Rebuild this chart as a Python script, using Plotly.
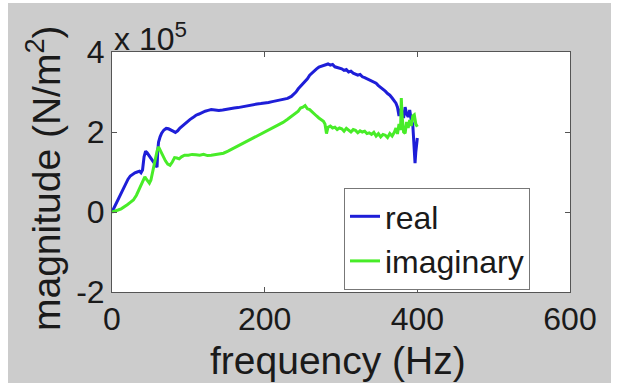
import plotly.graph_objects as go

# ---- data (magnitude in units of 1e5 N/m^2) ----
real_f = [0, 3, 6, 9, 12, 15, 18, 21, 24, 27, 30, 33, 36, 38, 40, 42, 44, 46, 48, 50,
          52, 54, 56, 58, 59, 60, 61, 63, 65, 68, 71, 74, 77, 80, 83, 86, 89, 92, 95, 98,
          102, 106, 110, 114, 118, 122, 126, 130, 135, 140, 145, 150, 155, 160, 165, 170,
          175, 180, 185, 190, 195, 200, 205, 210, 215, 220, 225, 230, 235, 238, 241, 244,
          247, 250, 253, 256, 259, 262, 265, 268, 271, 274, 277, 280, 283, 286, 289, 292,
          295, 298, 301, 304, 307, 310, 313, 316, 319, 322, 325, 328, 331, 334, 337, 340,
          343, 346, 349, 352, 355, 358, 361, 364, 367, 370, 372, 374, 376, 378, 380, 382,
          384, 386, 388, 390, 392, 394, 395, 396, 397, 398, 399, 400]
real_v = [0.00, 0.12, 0.25, 0.36, 0.48, 0.60, 0.72, 0.82, 0.90, 0.95, 0.98, 1.00, 1.02, 0.98,
          1.05, 1.38, 1.52, 1.48, 1.42, 1.36, 1.30, 1.25, 1.20, 1.14, 1.12, 1.55, 1.75, 1.88,
          1.97, 2.05, 2.09, 2.08, 2.04, 2.02, 1.99, 2.03, 2.10, 2.15, 2.21, 2.26, 2.31, 2.36,
          2.42, 2.45, 2.49, 2.52, 2.54, 2.56, 2.55, 2.54, 2.55, 2.57, 2.59, 2.60, 2.61, 2.63,
          2.65, 2.66, 2.68, 2.70, 2.71, 2.72, 2.74, 2.76, 2.78, 2.80, 2.82, 2.84, 2.89, 2.94,
          3.00, 3.08, 3.14, 3.20, 3.27, 3.33, 3.42, 3.48, 3.52, 3.58, 3.62, 3.64, 3.66, 3.68,
          3.70, 3.67, 3.69, 3.63, 3.61, 3.60, 3.58, 3.54, 3.56, 3.50, 3.52, 3.47, 3.45, 3.42,
          3.44, 3.38, 3.36, 3.33, 3.30, 3.28, 3.24, 3.22, 3.16, 3.12, 3.08, 3.02, 2.96, 2.92,
          2.85, 2.78, 2.72, 2.62, 2.40, 2.58, 2.50, 2.35, 2.62, 2.45, 2.38, 2.55, 2.30, 2.20,
          1.95, 1.60, 1.22, 1.50, 1.75, 1.85]

imag_f = [0, 4, 8, 12, 16, 20, 24, 28, 32, 36, 39, 41, 43, 45, 47, 49, 51, 53, 55, 57,
          59, 61, 63, 65, 67, 70, 73, 76, 79, 82, 85, 88, 91, 95, 100, 105, 110, 115, 120,
          125, 130, 135, 140, 146, 152, 158, 164, 170, 176, 182, 188, 194, 200, 206, 212,
          218, 224, 230, 236, 240, 244, 247, 250, 253, 256, 259, 262, 265, 268, 271, 274,
          277, 279, 281, 283, 286, 289, 292, 295, 298, 301, 304, 307, 310, 313, 316, 319,
          322, 325, 328, 331, 334, 337, 340, 343, 346, 349, 352, 355, 358, 361, 364, 367,
          370, 372, 374, 376, 378, 379, 380, 382, 384, 386, 388, 390, 392, 394, 396, 398, 400]
imag_v = [0.00, 0.02, 0.05, 0.08, 0.12, 0.18, 0.24, 0.30, 0.42, 0.60, 0.72, 0.82, 0.88, 0.82,
          0.76, 0.72, 0.80, 1.00, 1.20, 1.38, 1.52, 1.63, 1.55, 1.44, 1.36, 1.28, 1.20, 1.17,
          1.25, 1.36, 1.35, 1.33, 1.38, 1.42, 1.42, 1.44, 1.43, 1.42, 1.44, 1.41, 1.42, 1.43,
          1.44, 1.47, 1.52, 1.58, 1.64, 1.70, 1.76, 1.81, 1.87, 1.93, 1.98, 2.04, 2.10, 2.16,
          2.24, 2.32, 2.40, 2.45, 2.52, 2.60, 2.62, 2.66, 2.58, 2.56, 2.50, 2.45, 2.40, 2.35,
          2.30, 2.27, 2.20, 1.96, 2.12, 2.15, 2.10, 2.12, 2.06, 2.10, 2.08, 2.02, 2.09, 2.05,
          2.00, 2.06, 2.04, 1.98, 2.03, 2.00, 2.02, 1.96, 1.98, 1.94, 1.99, 1.90, 1.96, 1.88,
          1.94, 1.92, 1.86, 1.96, 1.90, 2.00, 2.10, 1.95, 2.20, 2.05, 2.85, 2.40, 2.00, 1.97,
          2.25, 2.10, 2.30, 2.15, 2.40, 2.43, 2.20, 2.13]

scale = 1e5
x_ticks = [0, 200, 400, 600]
y_ticks = [-2, 0, 2, 4]

FONT = "Liberation Sans, Arial, Helvetica, sans-serif"
BLUE = "#1e1ed8"
GREEN = "#48ec28"
TXT = "#1a1a1a"

fig = go.Figure()
fig.add_trace(go.Scatter(x=real_f, y=[v * scale for v in real_v], mode="lines",
                         name="real", line=dict(color=BLUE, width=3)))
fig.add_trace(go.Scatter(x=imag_f, y=[v * scale for v in imag_v], mode="lines",
                         name="imaginary", line=dict(color=GREEN, width=3)))

axis_common = dict(showline=True, mirror="allticks", linecolor="#555555", linewidth=1,
                   ticks="inside", ticklen=5, tickcolor="#555555", showgrid=False,
                   zeroline=False, tickfont=dict(family=FONT, size=32, color=TXT))

fig.update_xaxes(range=[0, 600], tickvals=x_ticks, ticktext=[str(t) for t in x_ticks],
                 ticklabelstandoff=-1, **axis_common)
fig.update_yaxes(range=[-2 * scale, 4 * scale], tickvals=[t * scale for t in y_ticks],
                 ticktext=[str(t) for t in y_ticks], **axis_common)

W, H = 619, 388
L, R, T, B = 112, 49, 52, 96
pw, ph = W - L - R, H - T - B

def px(xp):
    return (xp - L) / pw

def py(yp):
    return (H - B - yp) / ph

annotations = [
    dict(text="x 10<sup>5</sup>", x=px(112), y=py(37), xref="paper", yref="paper",
         xanchor="left", yanchor="middle", showarrow=False,
         font=dict(family=FONT, size=32, color=TXT)),
    dict(text="frequency (Hz)", x=px(338), y=py(360), xref="paper", yref="paper",
         xanchor="center", yanchor="middle", showarrow=False,
         font=dict(family=FONT, size=39, color=TXT)),
    dict(text="magnitude (N/m<sup>2</sup>)", x=px(43), y=py(178), xref="paper", yref="paper",
         xanchor="center", yanchor="middle", showarrow=False, textangle=-90,
         font=dict(family=FONT, size=39, color=TXT)),
]

# white outer border around gray figure background
shapes = [
    dict(type="rect", xref="paper", yref="paper", x0=px(0), x1=px(8), y0=py(H), y1=py(0),
         fillcolor="white", line_width=0),
    dict(type="rect", xref="paper", yref="paper", x0=px(611), x1=px(W), y0=py(H), y1=py(0),
         fillcolor="white", line_width=0),
    dict(type="rect", xref="paper", yref="paper", x0=px(0), x1=px(W), y0=py(3), y1=py(0),
         fillcolor="white", line_width=0),
    dict(type="rect", xref="paper", yref="paper", x0=px(0), x1=px(W), y0=py(H), y1=py(383),
         fillcolor="white", line_width=0),
]

fig.update_layout(
    width=W, height=H,
    margin=dict(l=L, r=R, t=T, b=B),
    paper_bgcolor="#cccccc", plot_bgcolor="white",
    font=dict(family=FONT, color=TXT),
    showlegend=True,
    legend=dict(x=px(344), y=py(188), xanchor="left", yanchor="top",
                bgcolor="white", bordercolor="#777777", borderwidth=1,
                font=dict(family=FONT, size=32, color=TXT),
                tracegroupgap=0, itemwidth=30),
    annotations=annotations,
    shapes=shapes,
)

fig.write_html("out.html")
